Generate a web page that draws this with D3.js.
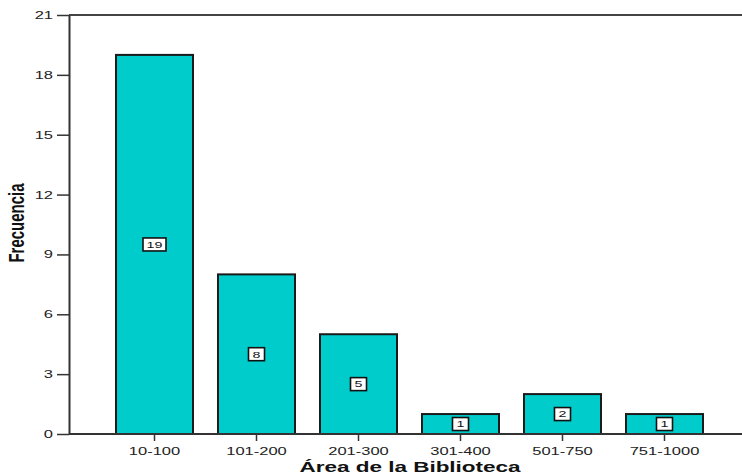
<!DOCTYPE html>
<html><head><meta charset="utf-8">
<script src="https://cdn.jsdelivr.net/npm/d3@7"></script>
<style>
html,body{margin:0;padding:0;background:#fff;}
text{font-family:Arial,"Liberation Sans",sans-serif;}
</style></head>
<body><svg id="c" width="742" height="474"></svg>
<script>
const categories = ["10-100","101-200","201-300","301-400","501-750","751-1000"];
const frequencies = [19, 8, 5, 1, 2, 1];
const yTicks = [0,3,6,9,12,15,18,21];
const xTitle = "Área de la Biblioteca";
const yTitle = "Frecuencia";

const SX = 1.5; // horizontal stretch of the source image
const svg = d3.select("#c");
const mLeft = 69, mRight = 742, mTop = 15, mBottom = 434;

const y = d3.scaleLinear().domain([0,21]).range([mBottom, mTop]);
const x = d3.scaleBand().domain(categories).range([116, 703]).paddingInner(0.245).paddingOuter(0);

// top border line
svg.append("line").attr("x1", mLeft).attr("x2", mRight).attr("y1", y(21)).attr("y2", y(21))
  .attr("stroke","#444").attr("stroke-width",2);

// bars
svg.append("g").selectAll("rect").data(frequencies).join("rect")
  .attr("x",(d,i)=>x(categories[i]))
  .attr("y",d=>y(d))
  .attr("width",x.bandwidth())
  .attr("height",d=>y(0)-y(d))
  .attr("fill","#00CCCC")
  .attr("stroke","#1a1a1a").attr("stroke-width",2);

// y axis
const gy = svg.append("g").attr("transform",`translate(${mLeft},0)`)
  .call(d3.axisLeft(y).tickValues(yTicks).tickSize(12).tickPadding(4).tickSizeOuter(0));
gy.select(".domain").attr("stroke","#333").attr("stroke-width",2);
gy.selectAll(".tick line").attr("stroke","#333").attr("stroke-width",1.5);
gy.selectAll(".tick text").attr("font-size",11).attr("fill","#222")
  .attr("x",0).attr("transform",`translate(-16,0) scale(${SX},1)`);

// x axis
const gx = svg.append("g").attr("transform",`translate(0,${mBottom})`)
  .call(d3.axisBottom(x).tickSize(7).tickPadding(5).tickSizeOuter(0));
gx.select(".domain").remove();
gx.append("line").attr("x1",mLeft).attr("x2",mRight).attr("stroke","#333").attr("stroke-width",2);
gx.selectAll(".tick line").attr("stroke","#333").attr("stroke-width",1.5);
gx.selectAll(".tick text").attr("font-size",11).attr("fill","#222")
  .attr("y",0).attr("dy",0).attr("transform",`translate(0,21) scale(${SX},1)`);

// value labels
const lab = svg.append("g").selectAll("g").data(frequencies).join("g")
  .attr("transform",(d,i)=>`translate(${x(categories[i])+x.bandwidth()/2},${y(d/2)})`);
lab.each(function(d){
  const g = d3.select(this);
  const s = String(d);
  const w = 9 + 7*s.length;
  g.append("rect").attr("x",-w/2).attr("y",-6.5).attr("width",w).attr("height",13)
    .attr("fill","#fff").attr("stroke","#111").attr("stroke-width",1.6);
  g.append("text").text(s).attr("text-anchor","middle").attr("font-size",9.5)
    .attr("dy","0.35em").attr("fill","#111").attr("transform",`scale(${SX},1)`);
});

// axis titles
svg.append("text").text(xTitle).attr("text-anchor","middle")
  .attr("font-size",15).attr("font-weight","bold").attr("fill","#111")
  .attr("transform",`translate(410,472) scale(${SX},1)`);
svg.append("text").text(yTitle).attr("text-anchor","middle")
  .attr("font-size",15).attr("font-weight","bold").attr("fill","#111")
  .attr("transform",`translate(24,223) rotate(-90) scale(1,${SX})`);
</script></body></html>
